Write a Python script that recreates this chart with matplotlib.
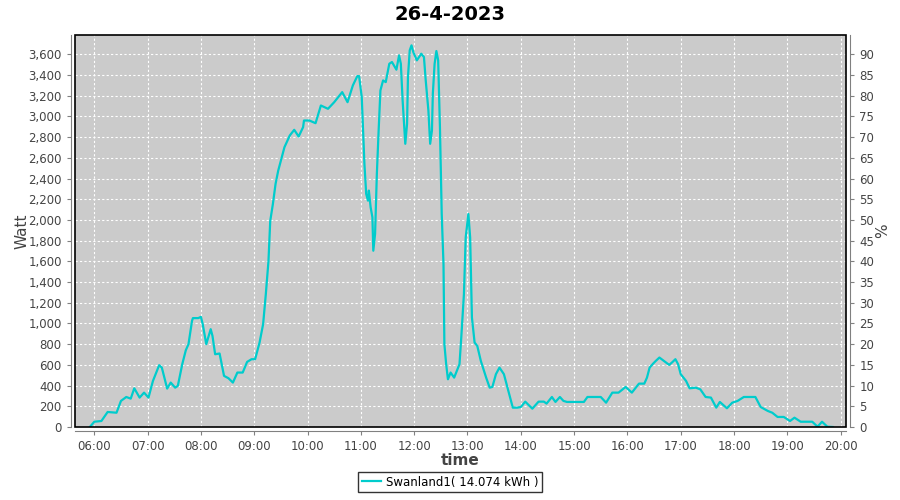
import matplotlib.pyplot as plt
from matplotlib.patches import Rectangle
from matplotlib.ticker import FuncFormatter, MultipleLocator

title = "26-4-2023"
series_name = "Swanland1( 14.074 kWh )"

times = ["05:55", "06:00", "06:08", "06:15", "06:25", "06:30", "06:36", "06:41", "06:45", "06:51",
         "06:56", "07:01", "07:06", "07:13", "07:16", "07:22", "07:26", "07:31", "07:34", "07:39",
         "07:43", "07:46", "07:50", "07:51", "07:57", "08:00", "08:02", "08:06", "08:11", "08:13",
         "08:16", "08:21", "08:26", "08:31", "08:36", "08:41", "08:47", "08:52", "08:57", "09:01",
         "09:06", "09:10", "09:13", "09:16", "09:18", "09:21", "09:24", "09:27", "09:30", "09:34",
         "09:40", "09:45", "09:50", "09:55", "09:56", "10:02", "10:09", "10:15", "10:23", "10:30",
         "10:39", "10:45", "10:51", "10:56", "10:58", "11:01", "11:04", "11:06", "11:08", "11:09",
         "11:11", "11:13", "11:14", "11:16", "11:18", "11:20", "11:22", "11:25", "11:28", "11:32",
         "11:35", "11:40", "11:43", "11:45", "11:47", "11:50", "11:52", "11:53", "11:55", "11:57",
         "11:59", "12:03", "12:08", "12:11", "12:13", "12:16", "12:18", "12:20", "12:21", "12:23",
         "12:25", "12:27", "12:29", "12:31", "12:33", "12:34", "12:36", "12:38", "12:41", "12:45",
         "12:51", "12:53", "12:56", "12:58", "13:01", "13:03", "13:05", "13:08", "13:11", "13:15",
         "13:21", "13:25", "13:28", "13:32", "13:36", "13:41", "13:46", "13:51", "13:56", "14:00",
         "14:05", "14:08", "14:13", "14:20", "14:26", "14:29", "14:35", "14:39", "14:44", "14:48",
         "14:52", "15:11", "15:15", "15:30", "15:36", "15:43", "15:50", "15:58", "16:05", "16:13",
         "16:19", "16:22", "16:25", "16:29", "16:32", "16:36", "16:41", "16:47", "16:50", "16:54",
         "16:57", "17:00", "17:06", "17:10", "17:17", "17:22", "17:28", "17:34", "17:40", "17:44",
         "17:52", "17:58", "18:04", "18:11", "18:24", "18:30", "18:38", "18:43", "18:49", "18:56",
         "19:03", "19:08", "19:15", "19:28", "19:34", "19:39", "19:45", "19:51"]

watts = [0, 51, 58, 145, 138, 252, 290, 274, 374, 284,
         332, 284, 445, 597, 574, 371, 429, 380, 397, 607,
         742, 800, 1026, 1052, 1052, 1064, 994, 800, 945, 880,
         703, 710, 494, 471, 429, 526, 526, 629, 655, 655,
         816, 994, 1280, 1600, 1990, 2155, 2349, 2477, 2574, 2703,
         2816, 2871, 2806, 2897, 2961, 2961, 2935, 3106, 3074, 3138,
         3235, 3138, 3300, 3390, 3390, 3187, 2542, 2252, 2187, 2284,
         2122, 2026, 1703, 1865, 2445, 2864, 3251, 3348, 3332, 3509,
         3526, 3452, 3590, 3509, 3155, 2736, 2929, 3380, 3639, 3687,
         3622, 3542, 3606, 3574, 3348, 3058, 2736, 2864, 3219, 3509,
         3632, 3542, 2897, 2058, 1574, 800, 607, 461, 526, 477,
         607, 864, 1284, 1832, 2058, 1832, 1058, 816, 784, 639,
         477, 380, 387, 510, 574, 510, 348, 187, 187, 193,
         245, 219, 177, 245, 245, 226, 290, 242, 290, 252,
         242, 242, 290, 290, 235, 332, 332, 387, 332, 419,
         419, 477, 574, 613, 639, 671, 639, 600, 622, 655,
         607, 510, 445, 374, 380, 364, 290, 284, 187, 242,
         181, 235, 252, 290, 290, 193, 155, 138, 97, 97,
         58, 90, 51, 51, 3, 51, 3, 0]

hour_labels = ["%02d:00" % h for h in range(6, 21)]


def to_hours(s):
    h, m = s.split(":")
    return int(h) + int(m) / 60.0


x = [to_hours(t) for t in times]

grey = "#808080"
txt = "#444444"

fig = plt.figure(figsize=(9, 5), dpi=100)
ax = fig.add_axes([75 / 900, 73 / 500, 771 / 900, 392 / 500])
ax.set_facecolor("#cbcbcb")

line, = ax.plot(x, watts, color="#00cccc", lw=1.6, label=series_name)

ax.set_xlim(5.638, 20.1)
ax.set_ylim(0, 3787)
ax.set_xticks(range(6, 21))
ax.set_xticklabels(hour_labels)
ax.yaxis.set_major_locator(MultipleLocator(200))
ax.yaxis.set_major_formatter(FuncFormatter(lambda v, p: "{:,.0f}".format(v)))
ax.grid(True, color="white", linestyle=(0, (2, 2)), lw=0.8)

for s in ["top", "right"]:
    ax.spines[s].set_visible(False)
for s in ["left", "bottom"]:
    ax.spines[s].set_position(("outward", 3))
    ax.spines[s].set_color(grey)
ax.tick_params(colors=grey, labelcolor=txt, labelsize=8.5, length=3)

ax.set_ylabel("Watt", fontsize=11, color=txt, labelpad=-1)
ax.set_xlabel("time", fontsize=11, color=txt, fontweight="bold", labelpad=0)

ax2 = ax.twinx()
ax2.set_ylim(0, 3787 / 40.0)
ax2.yaxis.set_major_locator(MultipleLocator(5))
for s in ["top", "left", "bottom"]:
    ax2.spines[s].set_visible(False)
ax2.spines["right"].set_position(("outward", 3))
ax2.spines["right"].set_color(grey)
ax2.tick_params(colors=grey, labelcolor=txt, labelsize=8.5, length=3)
ax2.set_ylabel("%", fontsize=11, color=txt, labelpad=1)

# plot outline
ax.add_patch(Rectangle((0, 0), 1, 1, transform=ax.transAxes, fill=False,
                       ec="black", lw=1.2, clip_on=False, zorder=5))

fig.suptitle(title, fontsize=14, fontweight="bold", y=0.99)

leg = fig.legend(handles=[line], loc="lower center", bbox_to_anchor=(0.5, 0.004),
                 fontsize=8.5, frameon=True, fancybox=False, handlelength=1.6,
                 borderpad=0.3, handletextpad=0.4)
leg.get_frame().set_edgecolor("black")
leg.get_frame().set_linewidth(1.0)

fig.savefig("out.png", dpi=100)
